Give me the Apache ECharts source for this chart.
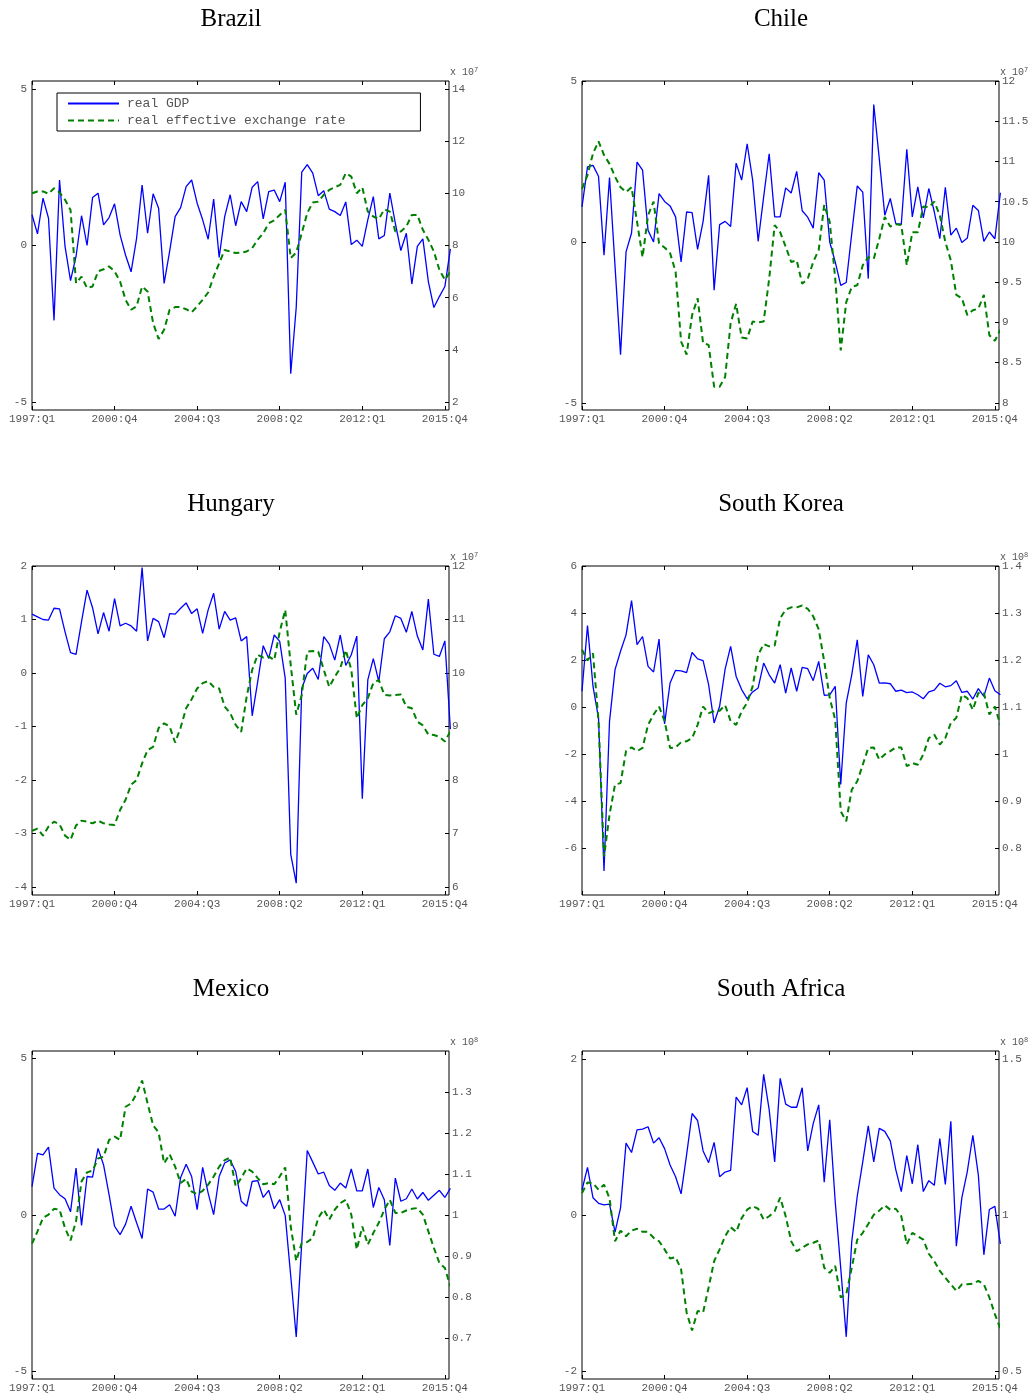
<!DOCTYPE html>
<html><head><meta charset="utf-8">
<script src="https://cdn.jsdelivr.net/npm/echarts@6/dist/echarts.min.js"></script>
<style>html,body{margin:0;padding:0;background:#fff}#c{width:1035px;height:1399px}</style>
</head><body><div id="c"></div>
<script>
// Quarters 1997:Q1 .. 2016:Q1 (last one lies just past the right edge of the plots)
const quarters = [];
for (let y = 1997; y <= 2016; y++) for (let q = 1; q <= 4; q++) quarters.push(y + ':Q' + q);
quarters.length = 77;
const xTickLabels = ['1997:Q1', '2000:Q4', '2004:Q3', '2008:Q2', '2012:Q1', '2015:Q4'];

const countries = ['Brazil', 'Chile', 'Hungary', 'South Korea', 'Mexico', 'South Africa'];
const seriesNames = ['real GDP', 'real effective exchange rate'];

const brazilGDP = [0.98,0.37,1.51,0.87,-2.39,2.09,-0.03,-1.12,-0.35,0.95,0.00,1.53,1.67,0.66,0.89,1.33,0.34,-0.31,-0.84,0.23,1.93,0.39,1.65,1.19,-1.21,-0.19,0.92,1.21,1.88,2.09,1.35,0.82,0.20,1.48,-0.38,0.92,1.62,0.63,1.40,1.08,1.86,2.04,0.85,1.72,1.77,1.40,2.02,-4.09,-1.97,2.34,2.58,2.31,1.59,1.75,1.16,1.08,0.96,1.39,0.03,0.17,-0.03,0.82,1.56,0.21,0.32,1.67,0.71,-0.16,0.39,-1.23,-0.03,0.21,-1.15,-1.98,-1.63,-1.31,-0.11];
const brazilREER = [10.00,10.07,10.07,9.98,10.19,10.03,9.75,9.36,6.56,6.81,6.37,6.43,7.01,7.09,7.20,7.01,6.62,5.92,5.54,5.67,6.43,6.24,5.03,4.42,4.77,5.54,5.64,5.64,5.56,5.44,5.67,5.92,6.20,6.81,7.32,7.83,7.77,7.71,7.73,7.77,7.90,8.22,8.47,8.85,8.96,9.17,9.36,7.52,7.73,8.47,9.24,9.65,9.68,9.94,10.13,10.23,10.32,10.77,10.64,10.00,10.23,9.30,9.11,9.01,9.39,9.30,8.54,8.54,8.73,9.17,9.17,8.60,8.22,7.77,7.07,6.69,7.00];

const chileGDP = [1.09,2.33,2.38,2.04,-0.41,2.00,-0.75,-3.50,-0.31,0.28,2.48,2.23,0.36,0.00,1.50,1.26,1.12,0.78,-0.62,0.93,0.91,-0.23,0.64,2.07,-1.50,0.54,0.64,0.48,2.45,1.92,3.05,1.92,0.02,1.40,2.74,0.78,0.78,1.68,1.52,2.19,0.97,0.77,0.43,2.15,1.92,0.00,-0.62,-1.35,-1.26,0.26,1.74,1.55,-1.14,4.27,2.59,0.83,1.35,0.57,0.55,2.88,0.78,1.71,0.75,1.66,0.93,0.10,1.70,0.21,0.43,-0.02,0.12,1.14,0.98,0.02,0.31,0.10,1.53];
const chileREER = [10.66,10.83,11.10,11.25,11.08,10.97,10.81,10.68,10.62,10.68,10.25,9.81,10.33,10.50,9.98,9.93,9.86,9.63,8.76,8.60,9.09,9.30,8.74,8.72,8.20,8.20,8.32,8.99,9.23,8.81,8.80,9.01,9.00,9.01,9.54,10.21,10.12,9.94,9.75,9.77,9.48,9.54,9.75,9.90,10.46,10.25,9.54,8.65,9.25,9.44,9.46,9.71,9.81,9.79,10.04,10.31,10.19,10.22,10.21,9.71,10.12,10.12,10.44,10.43,10.50,10.33,10.00,9.77,9.34,9.30,9.09,9.15,9.17,9.34,8.84,8.77,8.91];

const hungaryGDP = [1.10,1.05,1.00,0.99,1.21,1.20,0.77,0.38,0.35,0.96,1.55,1.22,0.73,1.13,0.78,1.39,0.88,0.93,0.88,0.78,1.97,0.60,1.02,0.96,0.66,1.11,1.10,1.21,1.31,1.11,1.20,0.74,1.18,1.49,0.82,1.15,0.99,1.03,0.60,0.68,-0.80,-0.16,0.51,0.27,0.71,0.59,-0.10,-3.39,-3.93,-0.29,-0.01,0.09,-0.12,0.68,0.54,0.24,0.71,0.14,0.34,0.69,-2.35,-0.13,0.27,-0.16,0.64,0.77,1.07,1.02,0.76,1.15,0.69,0.43,1.38,0.35,0.31,0.60,-1.05];
const hungaryREER = [7.05,7.09,6.96,7.13,7.22,7.17,6.96,6.88,7.15,7.24,7.22,7.19,7.24,7.19,7.17,7.16,7.44,7.63,7.91,8.00,8.31,8.56,8.62,8.97,9.06,9.00,8.70,8.98,9.34,9.51,9.71,9.81,9.85,9.74,9.71,9.37,9.25,9.03,8.90,9.56,10.06,10.34,10.29,10.31,10.24,10.77,11.18,10.15,9.22,9.59,10.40,10.41,10.40,10.06,9.74,9.93,10.09,10.43,10.06,9.15,9.40,9.53,9.81,9.87,9.59,9.58,9.59,9.60,9.37,9.34,9.09,9.02,8.85,8.84,8.81,8.72,8.91];

const koreaGDP = [0.67,3.47,0.88,-0.47,-6.98,-0.61,1.59,2.37,3.07,4.53,2.65,3.00,1.73,1.49,2.89,-0.72,1.02,1.56,1.54,1.46,2.32,2.05,1.97,0.95,-0.68,0.03,1.61,2.58,1.30,0.74,0.35,0.64,0.81,1.87,1.37,1.02,1.80,0.59,1.66,0.67,1.69,1.63,1.12,1.94,0.50,0.52,0.88,-3.30,0.17,1.37,2.86,0.45,2.22,1.80,1.02,1.03,0.99,0.67,0.72,0.61,0.64,0.52,0.35,0.64,0.72,1.01,0.86,0.91,1.12,0.62,0.67,0.34,0.78,0.45,1.23,0.69,0.52];
const koreaREER = [1.222,1.199,1.214,1.070,0.782,0.871,0.935,0.938,1.006,1.014,1.006,1.013,1.062,1.084,1.101,1.070,1.013,1.014,1.025,1.027,1.034,1.062,1.101,1.087,1.091,1.092,1.104,1.070,1.062,1.091,1.109,1.144,1.211,1.234,1.229,1.231,1.289,1.307,1.312,1.312,1.316,1.309,1.293,1.265,1.197,1.119,1.073,0.878,0.857,0.924,0.942,0.977,1.013,1.014,0.988,0.999,1.006,1.014,1.014,0.974,0.981,0.977,0.999,1.034,1.041,1.020,1.034,1.066,1.077,1.126,1.119,1.094,1.130,1.130,1.084,1.101,1.062];

const mexicoGDP = [0.91,1.97,1.92,2.17,0.86,0.65,0.52,0.10,1.50,-0.33,1.23,1.21,2.13,1.60,0.65,-0.36,-0.63,-0.29,0.28,-0.25,-0.75,0.83,0.73,0.19,0.19,0.33,-0.04,1.20,1.62,1.23,0.17,1.52,0.70,0.01,1.23,1.66,1.76,1.39,0.44,0.28,1.07,1.10,0.56,0.79,0.20,0.49,-0.02,-1.95,-3.90,-0.89,2.06,1.69,1.31,1.37,0.94,0.79,1.02,0.86,1.47,0.77,0.77,1.47,0.24,0.88,0.49,-0.97,1.18,0.44,0.52,0.83,0.51,0.72,0.47,0.63,0.79,0.56,0.85];
const mexicoREER = [0.930,0.960,0.993,1.001,1.015,1.013,0.968,0.938,0.985,1.082,1.104,1.108,1.138,1.142,1.183,1.191,1.183,1.264,1.272,1.296,1.328,1.272,1.219,1.201,1.126,1.148,1.118,1.078,1.088,1.057,1.051,1.059,1.074,1.094,1.118,1.134,1.140,1.070,1.090,1.114,1.106,1.090,1.075,1.078,1.075,1.094,1.116,0.972,0.888,0.932,0.934,0.944,0.993,1.013,0.989,1.013,1.029,1.037,1.001,0.916,0.972,0.928,0.956,0.981,1.013,1.037,1.005,1.005,1.011,1.015,1.017,1.001,0.960,0.920,0.883,0.871,0.826];

const safricaGDP = [0.32,0.61,0.22,0.15,0.13,0.14,-0.22,0.09,0.92,0.80,1.09,1.10,1.13,0.92,0.99,0.85,0.64,0.49,0.27,0.77,1.30,1.21,0.82,0.67,0.93,0.49,0.55,0.57,1.51,1.41,1.63,1.07,1.02,1.80,1.35,0.68,1.75,1.42,1.38,1.38,1.63,0.82,1.17,1.41,0.42,1.22,0.17,-0.68,-1.56,-0.34,0.24,0.68,1.14,0.68,1.11,1.07,0.95,0.58,0.30,0.76,0.40,0.90,0.30,0.44,0.38,0.98,0.39,1.20,-0.40,0.22,0.56,1.02,0.51,-0.51,0.07,0.11,-0.37];
const safricaREER = [1.070,1.104,1.102,1.081,1.097,1.054,0.916,0.950,0.932,0.950,0.956,0.946,0.946,0.927,0.916,0.890,0.861,0.865,0.826,0.688,0.630,0.693,0.688,0.768,0.852,0.890,0.932,0.961,0.946,0.990,1.017,1.028,1.020,0.985,0.996,1.012,1.056,0.996,0.916,0.884,0.895,0.906,0.911,0.918,0.831,0.815,0.837,0.736,0.746,0.831,0.921,0.943,0.971,1.001,1.014,1.031,1.017,1.020,0.996,0.906,0.943,0.932,0.921,0.876,0.852,0.821,0.799,0.778,0.757,0.778,0.778,0.780,0.789,0.778,0.736,0.683,0.636];

// tick values for each panel: left axis (GDP) and right axis (REER, scaled)
const leftTicks = [[-5,0,5],[-5,0,5],[-4,-3,-2,-1,0,1,2],[-6,-4,-2,0,2,4,6],[-5,0,5],[-2,0,2]];
const rightTicks = [[2,4,6,8,10,12,14],[8,8.5,9,9.5,10,10.5,11,11.5,12],[6,7,8,9,10,11,12],[0.8,0.9,1,1.1,1.2,1.3,1.4],[0.7,0.8,0.9,1,1.1,1.2,1.3],[0.5,1,1.5]];
const rightExponent = [7,7,7,8,8,8];

const gdpData = [brazilGDP, chileGDP, hungaryGDP, koreaGDP, mexicoGDP, safricaGDP];
const reerData = [brazilREER, chileREER, hungaryREER, koreaREER, mexicoREER, safricaREER];

// axis extents (layout)
const leftRange = [[-5.25,5.25],[-5.22,5],[-4.15,2],[-8,6],[-5.24,5.24],[-2.1,2.1]];
const rightRange = [[1.7,14.3],[7.91,12],[5.85,12],[0.7,1.4],[0.6,1.4],[0.475,1.525]];
const X_MAX = 75.75;

const colLeft = [32, 582], colW = 417;
const rowTop = [81, 566, 1051], rowH = [329, 329, 328];

const MONO = "'Liberation Mono', 'DejaVu Sans Mono', monospace";
const labelColor = '#555';
const grid = [], xAxis = [], yAxis = [], series = [], graphic = [];

const xTickVals = xTickLabels.map(l => quarters.indexOf(l));
const noLine = { show: false, onZero: false };

countries.forEach((name, k) => {
  const c = k % 2, r = Math.floor(k / 2);
  const left = colLeft[c], top = rowTop[r];
  grid.push({ left: left, top: top, width: colW, height: rowH[r], show: true,
    borderColor: '#000', borderWidth: 1, backgroundColor: 'transparent' });
  // bottom x axis
  xAxis.push({ type: 'value', gridIndex: k, min: 0, max: X_MAX, position: 'bottom',
    axisLine: noLine, splitLine: { show: false },
    axisTick: { show: true, inside: true, length: 4, customValues: xTickVals, lineStyle: { color: '#000' } },
    axisLabel: { show: true, customValues: xTickVals, margin: 4, color: labelColor,
      fontFamily: MONO, fontSize: 11, formatter: v => quarters[Math.round(v)] } });
  // top x axis (mirrored ticks)
  xAxis.push({ type: 'value', gridIndex: k, min: 0, max: X_MAX, position: 'top',
    axisLine: noLine, splitLine: { show: false },
    axisTick: { show: true, inside: true, length: 4, customValues: xTickVals, lineStyle: { color: '#000' } },
    axisLabel: { show: false } });
  yAxis.push({ type: 'value', gridIndex: k, position: 'left', min: leftRange[k][0], max: leftRange[k][1],
    axisLine: noLine, splitLine: { show: false },
    axisTick: { show: true, inside: true, length: 4, customValues: leftTicks[k], lineStyle: { color: '#000' } },
    axisLabel: { show: true, customValues: leftTicks[k], margin: 5, color: labelColor,
      fontFamily: MONO, fontSize: 11, formatter: v => String(v) } });
  yAxis.push({ type: 'value', gridIndex: k, position: 'right', min: rightRange[k][0], max: rightRange[k][1],
    axisLine: noLine, splitLine: { show: false },
    axisTick: { show: true, inside: true, length: 4, customValues: rightTicks[k], lineStyle: { color: '#000' } },
    axisLabel: { show: true, customValues: rightTicks[k], margin: 3, color: labelColor,
      fontFamily: MONO, fontSize: 11, formatter: v => String(v) } });
  series.push({ type: 'line', name: seriesNames[0], xAxisIndex: 2 * k, yAxisIndex: 2 * k,
    data: gdpData[k].map((v, i) => [i, v]), symbol: 'none', clip: true, z: 2,
    lineStyle: { color: '#0000ff', width: 1.3 }, itemStyle: { color: '#0000ff' } });
  series.push({ type: 'line', name: seriesNames[1], xAxisIndex: 2 * k, yAxisIndex: 2 * k + 1,
    data: reerData[k].map((v, i) => [i, v]), symbol: 'none', clip: true, z: 3,
    lineStyle: { color: '#008000', width: 2, type: [6, 4] }, itemStyle: { color: '#008000' } });
  // title
  graphic.push({ type: 'text', x: left + colW / 2 - 9.5, y: top - 62,
    style: { text: name, font: "25px 'Liberation Serif', 'DejaVu Serif', serif", fill: '#000',
      align: 'center', verticalAlign: 'middle' } });
  // exponent label of right axis
  graphic.push({ type: 'text', x: left + colW + 1, y: top - 14,
    style: { text: '{a|x 10}{b|' + rightExponent[k] + '}', fill: labelColor,
      rich: { a: { fontFamily: MONO, fontSize: 10, fill: labelColor, verticalAlign: 'bottom' },
              b: { fontFamily: MONO, fontSize: 7, fill: labelColor, verticalAlign: 'top' } } } });
});

const chart = echarts.init(document.getElementById('c'), null, { renderer: 'canvas' });
chart.setOption({
  animation: false,
  backgroundColor: '#fff',
  grid, xAxis, yAxis, series, graphic,
  legend: { show: true, data: seriesNames, left: 57, top: 93, orient: 'vertical',
    itemWidth: 51, itemHeight: 15, itemGap: 4, selectedMode: false,
    itemStyle: { color: 'rgba(0,0,0,0)', borderWidth: 0, opacity: 0 },
    borderColor: '#000', borderWidth: 1, padding: [4, 75, 4, 10], backgroundColor: '#fff',
    textStyle: { fontFamily: MONO, fontSize: 13, color: labelColor, padding: [0, 0, 0, 3] } }
});
</script>
</body></html>
